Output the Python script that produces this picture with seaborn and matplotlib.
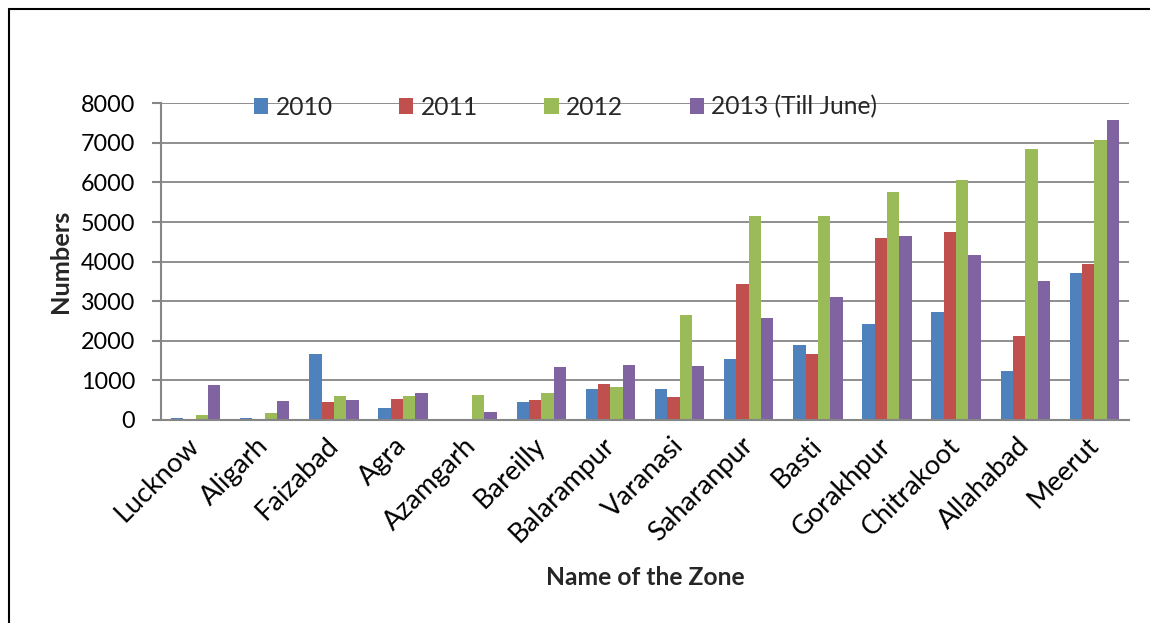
import numpy as np
import pandas as pd
import matplotlib
matplotlib.use("Agg")
import matplotlib.pyplot as plt
from matplotlib.lines import Line2D
import seaborn as sns

zones = ["Lucknow", "Aligarh", "Faizabad", "Agra", "Azamgarh", "Bareilly",
         "Balarampur", "Varanasi", "Saharanpur", "Basti", "Gorakhpur",
         "Chitrakoot", "Allahabad", "Meerut"]
years = ["2010", "2011", "2012", "2013 (Till June)"]

counts_2010 = [50, 50, 1662, 312, 20, 456, 793, 793, 1549, 1903, 2425, 2720, 1246, 3714]
counts_2011 = [25, 35, 464, 532, 10, 515, 903, 591, 3436, 1676, 4589, 4749, 2122, 3941]
counts_2012 = [120, 186, 608, 616, 633, 692, 844, 2658, 5145, 5154, 5768, 6063, 6855, 7074]
counts_2013 = [878, 481, 515, 692, 194, 1350, 1392, 1376, 2585, 3107, 4657, 4177, 3512, 7579]

yticks = [0, 1000, 2000, 3000, 4000, 5000, 6000, 7000, 8000]
colors = ["#4F81BD", "#C0504D", "#9BBB59", "#8064A2"]

df = pd.DataFrame({
    "zone": zones * 4,
    "year": np.repeat(years, len(zones)),
    "count": counts_2010 + counts_2011 + counts_2012 + counts_2013,
})

sns.set_theme(style="white")
plt.rcParams["font.family"] = ["Lato", "DejaVu Sans"]

fig = plt.figure(figsize=(11.5, 6.23), dpi=100)
ax = fig.add_axes([161 / 1150, 1 - 420 / 623, (1129 - 161) / 1150, (420 - 103.3) / 623])

sns.barplot(data=df, x="zone", y="count", hue="year", order=zones, hue_order=years,
            palette=colors, saturation=1, width=0.713, gap=0, linewidth=0,
            errorbar=None, ax=ax)

grid_col = "#868686"
ax.set_ylim(0, 8000)
ax.set_yticks(yticks)
ax.set_yticklabels([str(v) for v in yticks])
ax.set_xlim(-0.5, len(zones) - 0.5)
ax.set_axisbelow(True)
ax.yaxis.grid(True, color=grid_col, linewidth=1.3)
ax.xaxis.grid(False)

for side in ["top", "right"]:
    ax.spines[side].set_visible(False)
for side in ["left", "bottom"]:
    ax.spines[side].set_color(grid_col)
    ax.spines[side].set_linewidth(1.5)

# category separators as minor ticks on the x axis
ax.set_xticks(np.arange(len(zones) + 1) - 0.5, minor=True)
ax.tick_params(axis="x", which="minor", length=5.5, width=1.5, color=grid_col, direction="out")
ax.tick_params(axis="x", which="major", length=0, pad=15.5, labelsize=19.5, colors="black")
ax.tick_params(axis="y", which="major", length=6.5, width=1.5, color=grid_col,
               direction="out", pad=12, labelsize=16.8, left=True, colors="black")
plt.setp(ax.get_xticklabels(), rotation=45, ha="right", va="center", rotation_mode="anchor")

ax.set_xlabel("Name of the Zone", fontsize=17.7, fontweight="bold")
ax.set_ylabel("Numbers", fontsize=18.3, fontweight="bold")
ax.xaxis.set_label_coords(0.5, -0.498)
ax.xaxis.label.set_va("center")
ax.yaxis.set_label_coords((60 - 161) / 968, 0.5)
ax.yaxis.label.set_va("center")

handles, labels = ax.get_legend_handles_labels()
if ax.get_legend() is not None:
    ax.get_legend().remove()
fig.legend(handles, labels, loc="center left", bbox_to_anchor=(254 / 1150, 1 - 107 / 623),
           bbox_transform=fig.transFigure, ncol=4, frameon=False, fontsize=17.7,
           handlelength=0.58, handleheight=0.58, handletextpad=0.3, columnspacing=2.7,
           borderpad=0, borderaxespad=0)

# outer frame
fig.add_artist(Line2D([8.5 / 1150, 8.5 / 1150], [0, 1 - 9 / 623], transform=fig.transFigure,
                      color="black", linewidth=1.5))
fig.add_artist(Line2D([8.5 / 1150, 1.0], [1 - 9 / 623, 1 - 9 / 623], transform=fig.transFigure,
                      color="black", linewidth=1.5))

fig.savefig("out.png", dpi=100, facecolor="white")
